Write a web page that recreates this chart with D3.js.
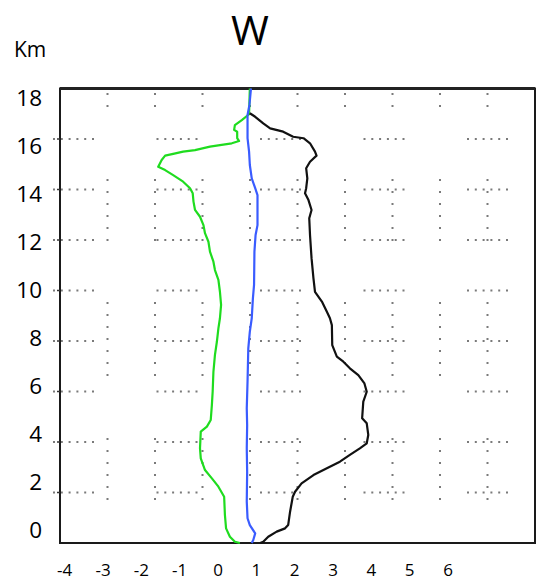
<!DOCTYPE html>
<html>
<head>
<meta charset="utf-8">
<script src="https://cdn.jsdelivr.net/npm/d3@7"></script>
<style>
  html, body { margin: 0; padding: 0; background: #fff; }
  svg { display: block; }
  text { font-family: "Open Sans", "Noto Sans", sans-serif; fill: #000; }
</style>
</head>
<body>
<svg id="chart" width="536" height="580"></svg>
<script>
// ---------- data ----------
const title = "W";
const yUnit = "Km";
const xTickLabels = [-4, -3, -2, -1, 0, 1, 2, 3, 4, 5, 6];
const yTickLabels = [0, 2, 4, 6, 8, 10, 12, 14, 16, 18];

// green profile: [value, height km]
const greenX = [0.83,0.81,0.62,0.44,0.42,0.50,0.50,0.55,0.36,0.05,-0.21,-0.60,-0.91,-1.17,-1.38,-1.47,-1.56,-1.38,-1.17,-0.91,-0.73,-0.66,-0.64,-0.60,-0.47,-0.38,-0.34,-0.25,-0.21,-0.12,-0.08,0.01,0.05,0.08,0.05,0.01,-0.03,-0.08,-0.12,-0.14,-0.16,-0.19,-0.29,-0.45,-0.47,-0.45,-0.34,-0.16,0.01,0.16,0.18,0.21,0.31,0.44,0.57];
const greenKm = [18.0,16.98,16.75,16.55,16.36,16.29,16.03,15.92,15.83,15.76,15.70,15.56,15.50,15.41,15.34,15.17,14.90,14.77,14.57,14.31,14.05,13.85,13.52,13.19,12.92,12.59,12.27,11.93,11.54,11.14,10.81,10.42,9.95,9.43,8.90,8.50,7.97,7.45,6.78,5.99,5.47,4.87,4.61,4.41,3.75,3.35,2.89,2.56,2.23,1.83,1.11,0.58,0.25,0.05,0.0];

const blueX = [0.86,0.82,0.77,0.77,0.81,0.83,0.88,0.97,1.03,1.03,0.98,0.95,0.94,0.91,0.88,0.83,0.79,0.77,0.75,0.76,0.75,0.76,0.75,0.77,0.83,0.97,0.92,0.88];
const blueKm = [18.0,17.35,16.95,16.03,15.50,14.97,14.44,14.05,13.78,12.59,12.20,11.54,10.22,9.69,8.90,8.37,7.71,6.39,5.33,4.67,3.75,2.82,1.64,0.98,0.71,0.38,0.12,0.0];

const blackX = [0.83,0.97,1.18,1.36,1.70,1.96,2.23,2.40,2.53,2.57,2.40,2.30,2.33,2.30,2.27,2.36,2.44,2.38,2.40,2.44,2.49,2.53,2.71,2.84,2.92,2.97,2.98,3.10,3.27,3.44,3.66,3.82,3.88,3.79,3.76,3.88,3.92,3.88,3.70,3.44,3.18,2.84,2.49,2.18,2.01,1.95,1.88,1.83,1.75,1.53,1.31,1.18,1.10];
const blackKm = [17.02,16.88,16.62,16.42,16.29,16.09,16.03,15.83,15.50,15.34,15.10,14.84,14.44,14.05,13.85,13.58,13.19,12.86,12.20,11.28,10.48,9.95,9.56,9.16,8.90,8.63,7.84,7.38,7.18,6.92,6.65,6.32,5.99,5.60,4.94,4.74,4.28,3.95,3.75,3.49,3.22,2.96,2.69,2.36,2.03,1.83,1.24,0.71,0.58,0.45,0.25,0.05,0.0];

const gridRowsKm = [2, 4, 6, 8, 10, 12, 14, 16];
const gridCols = [1, 2, 3, 4, 5, 6, 7, 8, 9];

// ---------- layout ----------
const frame = { left: 60, right: 535, top: 88.5, bottom: 543 };
const svg = d3.select("#chart");

const x = d3.scaleLinear().domain([-4, 6]).range([64.7, 448]);
const y = d3.scaleLinear().domain([0, 18]).range([frame.bottom, frame.top]);
const yLabel = d3.scaleLinear().domain([0, 18]).range([530, 98]);
const gx = d3.scaleLinear().domain([0, 10]).range([frame.left, frame.right]);

// ---------- grid ----------
function dotPattern(n, step, period, dot) {
  const a = [];
  for (let i = 0; i < n - 1; i++) { a.push(dot, step - dot); }
  a.push(dot, period - (n - 1) * step - dot);
  return a.join(" ");
}
const grid = svg.append("g").attr("stroke", "#7a7a7a").attr("stroke-width", 2);
grid.selectAll("line.h").data(gridRowsKm).join("line")
  .attr("class", "h")
  .attr("x1", frame.left - 7).attr("x2", frame.right)
  .attr("y1", d => y(d)).attr("y2", d => y(d))
  .attr("stroke-dasharray", dotPattern(6, 7.8, 103.5, 2));

// vertical dotted runs (start y, dot count)
const vRuns = [[93, 2], [179, 6], [302, 7], [438, 6]];
function vPattern(dot) {
  const a = [];
  vRuns.forEach((r, i) => {
    const [s, n] = r;
    for (let k = 0; k < n - 1; k++) a.push(dot, 12 - dot);
    const last = s + (n - 1) * 12;
    const next = i < vRuns.length - 1 ? vRuns[i + 1][0] : frame.bottom + 200;
    a.push(dot, next - last - dot);
  });
  return a.join(" ");
}
grid.selectAll("line.v").data(gridCols).join("line")
  .attr("class", "v")
  .attr("x1", d => gx(d)).attr("x2", d => gx(d))
  .attr("y1", vRuns[0][0]).attr("y2", frame.bottom)
  .attr("stroke-dasharray", vPattern(2));

// ---------- frame ----------
svg.append("rect")
  .attr("x", frame.left).attr("y", frame.top)
  .attr("width", frame.right - frame.left).attr("height", frame.bottom - frame.top)
  .attr("fill", "none").attr("stroke", "#1a1a1a").attr("stroke-width", 2);
svg.append("line")
  .attr("x1", frame.left).attr("x2", frame.right)
  .attr("y1", frame.top).attr("y2", frame.top)
  .attr("stroke", "#222").attr("stroke-width", 3);
svg.append("g").selectAll("line").data(gridRowsKm).join("line")
  .attr("x1", frame.left - 3).attr("x2", frame.left)
  .attr("y1", d => y(d)).attr("y2", d => y(d))
  .attr("stroke", "#333").attr("stroke-width", 1.5);

// ---------- profiles ----------
const line = d3.line().x(d => x(d[0])).y(d => y(d[1]));
const series = [
  { xs: greenX, ks: greenKm, color: "#1fdc1f" },
  { xs: blackX, ks: blackKm, color: "#111111" },
  { xs: blueX, ks: blueKm, color: "#3a5cff" }
];
svg.append("g").selectAll("path").data(series).join("path")
  .attr("d", s => line(d3.zip(s.xs, s.ks)))
  .attr("fill", "none")
  .attr("stroke", s => s.color)
  .attr("stroke-width", 2.2)
  .attr("stroke-linejoin", "round");

// ---------- text ----------
svg.append("text").attr("x", 250).attr("y", 45)
  .attr("text-anchor", "middle").attr("font-size", 41).text(title);
svg.append("text").attr("x", 14).attr("y", 57)
  .attr("font-size", 21).text(yUnit);

svg.append("g").selectAll("text").data(yTickLabels).join("text")
  .attr("x", 42).attr("y", d => yLabel(d) + 8)
  .attr("text-anchor", "end").attr("font-size", 22.5)
  .text(d => d);

svg.append("g").selectAll("text").data(xTickLabels).join("text")
  .attr("x", d => x(d)).attr("y", 576)
  .attr("text-anchor", "middle").attr("font-size", 17)
  .text(d => d);
</script>
</body>
</html>
